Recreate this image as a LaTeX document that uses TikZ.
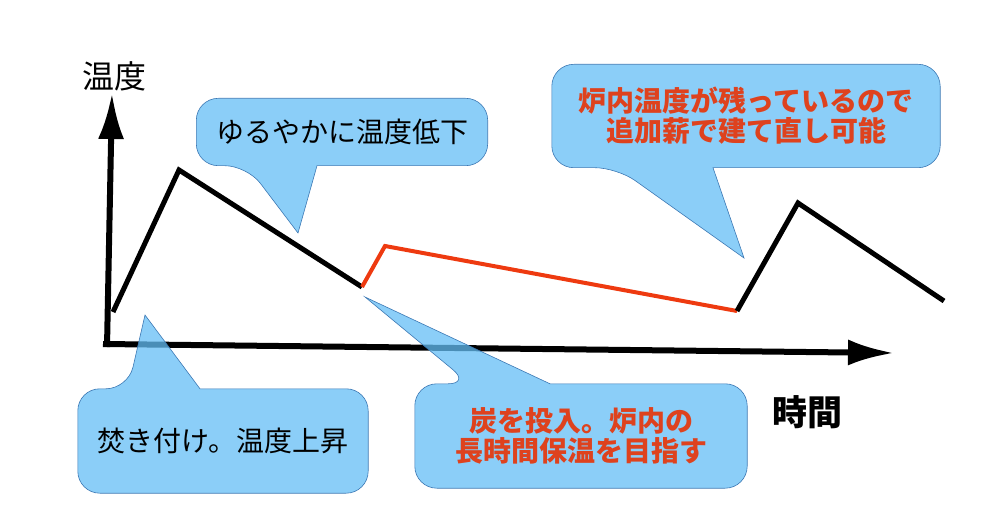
\documentclass[tikz,border=0pt]{standalone}
\usepackage{fontspec}
\setmainfont{Noto Sans CJK JP}
\usetikzlibrary{arrows.meta,calc}
\definecolor{bubblefill}{RGB}{100,190,245}
\definecolor{bubbleline}{RGB}{60,120,180}
\definecolor{coalred}{RGB}{238,58,16}
\definecolor{notered}{RGB}{222,66,30}
\pgfdeclarelayer{back}
\pgfdeclarelayer{front}
\pgfsetlayers{back,main,front}

\begin{document}
\begin{tikzpicture}[
  x=1pt, y=-1pt,
  axis/.style={line width=6pt, -{Latex[length=46pt,width=26pt]}},
  burn/.style={line width=5pt, line join=miter},
  coal/.style={line width=4pt, color=coalred},
  bubble/.style={fill=bubblefill, fill opacity=0.75, draw=bubbleline, line width=0.6pt},
  body/.style={inner sep=0pt, align=center, font=\fontsize{28}{30}\selectfont},
  rednote/.style={body, text=notered, font=\fontsize{28}{30}\selectfont\bfseries}
]
  \useasboundingbox (0,0) rectangle (989,508);
  % axes and temperature curve
  \begin{pgfonlayer}{back}
    \coordinate (ytip) at (112,93);
    \coordinate (xtip) at (894,353);
    \draw[axis] (107,347) -- (ytip);
    \draw[axis] (103,344) -- (xtip);
    \node[font=\fontsize{32}{34}\selectfont] (templabel) at (114,76) {温度};
    \node[font=\fontsize{35}{38}\selectfont\bfseries] (timelabel) at (807,412) {時間};
    \coordinate (p0) at (113,312);
    \coordinate (p1) at (179,170);
    \coordinate (p2) at (362,287);
    \coordinate (p3) at (385,246);
    \coordinate (p4) at (737,311);
    \coordinate (p5) at (798,203);
    \coordinate (p6) at (944,301);
    \draw[burn] (p0) -- (p1) -- (p2);
    \draw[coal] (p2) -- (p3) -- (p4);
    \draw[burn] (p4) -- (p5) -- (p6);
  \end{pgfonlayer}
  % callout texts
  \begin{pgfonlayer}{front}
    \node[body, minimum width=291pt, minimum height=67pt] (slow) at (342,132) {ゆるやかに温度低下};
    \node[rednote, minimum width=388pt, minimum height=103pt] (rebuild) at (746,116) {炉内温度が残っているので\\追加薪で建て直し可能};
    \node[body, minimum width=290pt, minimum height=104pt] (kindle) at (223,441) {焚き付け。温度上昇};
    \node[rednote, minimum width=332pt, minimum height=104pt] (charcoal) at (581,436) {炭を投入。炉内の\\長時間保温を目指す};
  \end{pgfonlayer}
  \coordinate (slowtip) at (298,233);
  \coordinate (rebuildtip) at (744,258);
  \coordinate (kindletip) at (145,315);
  \coordinate (charcoaltip) at (365,297);
  % bubbles
  \path[bubble] ([xshift=-25pt]slow.south) [rounded corners=22pt] -- (slow.south east) -- (slow.north east)
    -- (slow.north west) -- (slow.south west) -- ([xshift=-95pt]slow.south) [sharp corners] -- (slowtip) -- cycle;
  \path[bubble] ([xshift=-33pt]rebuild.south) [rounded corners=22pt] -- (rebuild.south east) -- (rebuild.north east)
    -- (rebuild.north west) -- (rebuild.south west) -- ([xshift=-129pt]rebuild.south) [sharp corners] -- (rebuildtip) -- cycle;
  \path[bubble] ([xshift=-23pt]kindle.north) [rounded corners=22pt] -- (kindle.north east) -- (kindle.south east)
    -- (kindle.south west) -- (kindle.north west) -- ([xshift=-95pt]kindle.north) [sharp corners] -- (kindletip) -- cycle;
  \path[bubble] ([xshift=-31pt]charcoal.north) [rounded corners=22pt] -- (charcoal.north east) -- (charcoal.south east)
    -- (charcoal.south west) -- (charcoal.north west) -- ([xshift=-111pt]charcoal.north) [sharp corners] -- (charcoaltip) -- cycle;
\end{tikzpicture}
\end{document}
